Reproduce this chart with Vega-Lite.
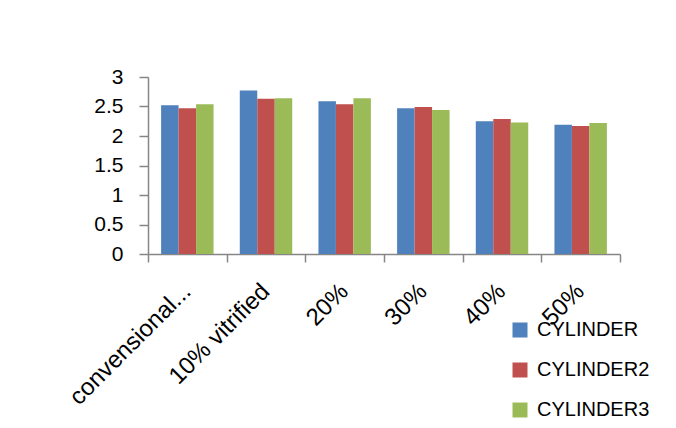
{
  "$schema": "https://vega.github.io/schema/vega-lite/v6.json",
  "width": 472,
  "height": 177,
  "autosize": {"type": "none"},
  "padding": {"left": 148, "top": 77, "right": 56, "bottom": 174},
  "background": "white",
  "config": {
    "font": "Liberation Sans",
    "view": {"stroke": null},
    "axis": {"grid": false, "domainColor": "#868686", "tickColor": "#868686", "labelColor": "#000000", "labelFont": "Liberation Sans"}
  },
  "data": {
    "values": [
      {"cat": "convensional...", "series": "CYLINDER", "v": 2.52},
      {"cat": "convensional...", "series": "CYLINDER2", "v": 2.47},
      {"cat": "convensional...", "series": "CYLINDER3", "v": 2.54},
      {"cat": "10% vitrified", "series": "CYLINDER", "v": 2.77},
      {"cat": "10% vitrified", "series": "CYLINDER2", "v": 2.63},
      {"cat": "10% vitrified", "series": "CYLINDER3", "v": 2.64},
      {"cat": "20%", "series": "CYLINDER", "v": 2.59},
      {"cat": "20%", "series": "CYLINDER2", "v": 2.54},
      {"cat": "20%", "series": "CYLINDER3", "v": 2.64},
      {"cat": "30%", "series": "CYLINDER", "v": 2.47},
      {"cat": "30%", "series": "CYLINDER2", "v": 2.49},
      {"cat": "30%", "series": "CYLINDER3", "v": 2.44},
      {"cat": "40%", "series": "CYLINDER", "v": 2.25},
      {"cat": "40%", "series": "CYLINDER2", "v": 2.29},
      {"cat": "40%", "series": "CYLINDER3", "v": 2.23},
      {"cat": "50%", "series": "CYLINDER", "v": 2.19},
      {"cat": "50%", "series": "CYLINDER2", "v": 2.17},
      {"cat": "50%", "series": "CYLINDER3", "v": 2.22}
    ]
  },
  "mark": {"type": "bar"},
  "encoding": {
    "x": {
      "field": "cat", "type": "nominal", "sort": null,
      "scale": {"paddingInner": 0, "paddingOuter": 0},
      "axis": {"title": null, "labelAngle": -45, "labelFontSize": 24, "tickBand": "extent", "tickSize": 8, "labelPadding": 17, "labelOffset": -9, "domainWidth": 1.5, "tickWidth": 1.5}
    },
    "xOffset": {"field": "series", "type": "nominal", "scale": {"paddingInner": 0, "paddingOuter": 0.75}},
    "y": {
      "field": "v", "type": "quantitative",
      "scale": {"domain": [0, 3], "nice": false},
      "axis": {"title": null, "values": [0, 0.5, 1, 1.5, 2, 2.5, 3], "format": ".1~f", "labelFontSize": 21, "tickSize": 9, "labelPadding": 16, "domainWidth": 1.5, "tickWidth": 1.5}
    },
    "color": {
      "field": "series", "type": "nominal",
      "scale": {"domain": ["CYLINDER", "CYLINDER2", "CYLINDER3"], "range": ["#4F81BD", "#C0504D", "#9BBB59"]},
      "legend": {"title": null, "orient": "none", "legendX": 362, "legendY": 243, "padding": 0, "symbolType": "square", "symbolSize": 225, "symbolStrokeWidth": 0, "labelFontSize": 20, "labelColor": "#000000", "rowPadding": 20, "labelOffset": 7}
    }
  }
}
